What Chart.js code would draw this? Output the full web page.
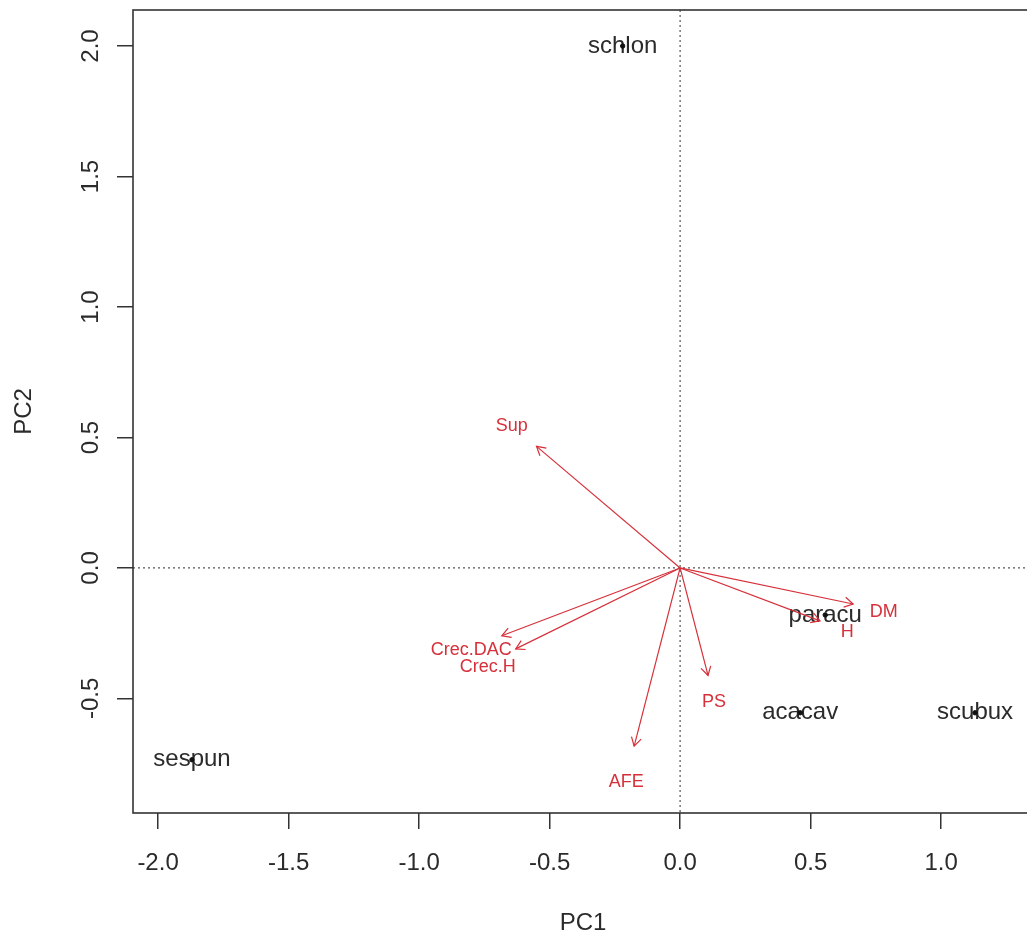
<!DOCTYPE html>
<html>
<head>
<meta charset="utf-8">
<script src="https://cdn.jsdelivr.net/npm/chart.js@4.4.1/dist/chart.umd.min.js"></script>
<style>
    html, body { margin: 0; padding: 0; background: #fff; overflow: hidden; }
    #wrap { width: 1040px; height: 940px; }
</style>
</head>
<body>
<div id="wrap"><canvas id="biplot" width="1040" height="940"></canvas></div>
<script>
// Site scores (black labels)
const siteNames = ['schlon', 'paracu', 'acacav', 'scubux', 'sespun'];
const siteX = [-0.22, 0.556, 0.46, 1.13, -1.87];
const siteY = [2.0, -0.18, -0.555, -0.555, -0.735];

// Variable arrows (red) - tips and label positions
const varNames = ['Sup', 'Crec.DAC', 'Crec.H', 'AFE', 'PS', 'H', 'DM'];
const varX = [-0.55, -0.683, -0.63, -0.176, 0.107, 0.536, 0.663];
const varY = [0.466, -0.26, -0.31, -0.683, -0.412, -0.203, -0.138];
const varLabelX = [-0.645, -0.80, -0.737, -0.206, 0.13, 0.64, 0.78];
const varLabelY = [0.542, -0.313, -0.378, -0.82, -0.515, -0.245, -0.168];

// Axis ticks
const xTicks = [-2.0, -1.5, -1.0, -0.5, 0.0, 0.5, 1.0];
const yTicks = [-0.5, 0.0, 0.5, 1.0, 1.5, 2.0];

const RED = 'rgb(214, 48, 58)';
const INK = '#2b2b2b';

// Arrow datasets, one per variable
const arrowSets = varNames.map((name, i) => ({
    label: name,
    type: 'line',
    data: [{ x: 0, y: 0 }, { x: varX[i], y: varY[i] }],
    borderColor: RED,
    borderWidth: 1.2,
    pointRadius: 0,
    fill: false,
    order: 1
}));

// Extra drawing: zero lines, labels, arrowheads, frame
const biplotExtras = {
    id: 'biplotExtras',
    beforeDatasetsDraw(chart) {
        const { ctx, chartArea: a, scales: { x, y } } = chart;
        ctx.save();
        ctx.strokeStyle = '#555';
        ctx.lineWidth = 1.2;
        ctx.setLineDash([2, 3]);
        const x0 = x.getPixelForValue(0), y0 = y.getPixelForValue(0);
        ctx.beginPath();
        ctx.moveTo(x0, a.top); ctx.lineTo(x0, a.bottom);
        ctx.moveTo(a.left, y0); ctx.lineTo(a.right, y0);
        ctx.stroke();
        ctx.setLineDash([]);

        // site labels
        ctx.fillStyle = INK;
        ctx.font = '24px "Liberation Sans", Arial, sans-serif';
        ctx.textAlign = 'center';
        ctx.textBaseline = 'middle';
        siteNames.forEach((n, i) => {
            ctx.fillText(n, x.getPixelForValue(siteX[i]), y.getPixelForValue(siteY[i]));
        });
        ctx.restore();
    },
    afterDatasetsDraw(chart) {
        const { ctx, chartArea: a, scales: { x, y } } = chart;
        ctx.save();
        const ox = x.getPixelForValue(0), oy = y.getPixelForValue(0);
        ctx.strokeStyle = RED;
        ctx.lineWidth = 1.2;
        varNames.forEach((n, i) => {
            const px = x.getPixelForValue(varX[i]), py = y.getPixelForValue(varY[i]);
            const ang = Math.atan2(py - oy, px - ox);
            const len = 10, spread = Math.PI / 6;
            ctx.beginPath();
            ctx.moveTo(px - len * Math.cos(ang - spread), py - len * Math.sin(ang - spread));
            ctx.lineTo(px, py);
            ctx.lineTo(px - len * Math.cos(ang + spread), py - len * Math.sin(ang + spread));
            ctx.stroke();
        });

        ctx.fillStyle = RED;
        ctx.font = '18px "Liberation Sans", Arial, sans-serif';
        ctx.textAlign = 'center';
        ctx.textBaseline = 'middle';
        varNames.forEach((n, i) => {
            ctx.fillText(n, x.getPixelForValue(varLabelX[i]), y.getPixelForValue(varLabelY[i]));
        });

        // frame
        ctx.strokeStyle = '#333';
        ctx.lineWidth = 1.6;
        ctx.strokeRect(a.left, a.top, a.right - a.left, a.bottom - a.top);
        ctx.restore();
    }
};

const tickFont = { family: '"Liberation Sans", Arial, sans-serif', size: 24 };

new Chart(document.getElementById('biplot'), {
    type: 'scatter',
    data: {
        datasets: [
            {
                label: 'sites',
                data: siteNames.map((n, i) => ({ x: siteX[i], y: siteY[i] })),
                backgroundColor: '#111',
                borderColor: '#111',
                pointRadius: 2.2,
                order: 0
            },
            ...arrowSets
        ]
    },
    options: {
        responsive: false,
        animation: false,
        devicePixelRatio: 1,
        layout: { padding: { left: 0, top: 10, right: 7, bottom: 0 } },
        plugins: { legend: { display: false }, tooltip: { enabled: false } },
        scales: {
            x: {
                type: 'linear',
                min: -2.096,
                max: 1.352,
                afterFit: (s) => { s.height = 127; s.paddingLeft = 0; s.paddingRight = 0; },
                afterBuildTicks: (s) => { s.ticks = xTicks.map(v => ({ value: v })); },
                border: { display: false },
                grid: { drawOnChartArea: false, drawTicks: true, tickLength: 16, color: '#333', lineWidth: 1.5 },
                ticks: {
                    color: INK, font: tickFont, padding: 20,
                    maxRotation: 0, autoSkip: false,
                    callback: (v) => Number(v).toFixed(1)
                },
                title: { display: true, text: 'PC1', color: INK, font: tickFont, padding: { top: 0, bottom: 2 } }
            },
            y: {
                type: 'linear',
                min: -0.939,
                max: 2.138,
                afterFit: (s) => { s.width = 133; s.paddingTop = 0; s.paddingBottom = 0; },
                afterBuildTicks: (s) => { s.ticks = yTicks.map(v => ({ value: v })); },
                border: { display: false },
                grid: { drawOnChartArea: false, drawTicks: true, tickLength: 16, color: '#333', lineWidth: 1.5 },
                ticks: {
                    color: INK, font: tickFont, padding: 5,
                    minRotation: 90, maxRotation: 90, crossAlign: 'center', autoSkip: false,
                    callback: (v) => Number(v).toFixed(1)
                },
                title: { display: true, text: 'PC2', color: INK, font: tickFont, padding: { top: 10, bottom: 0 } }
            }
        }
    },
    plugins: [biplotExtras]
});
</script>
</body>
</html>
